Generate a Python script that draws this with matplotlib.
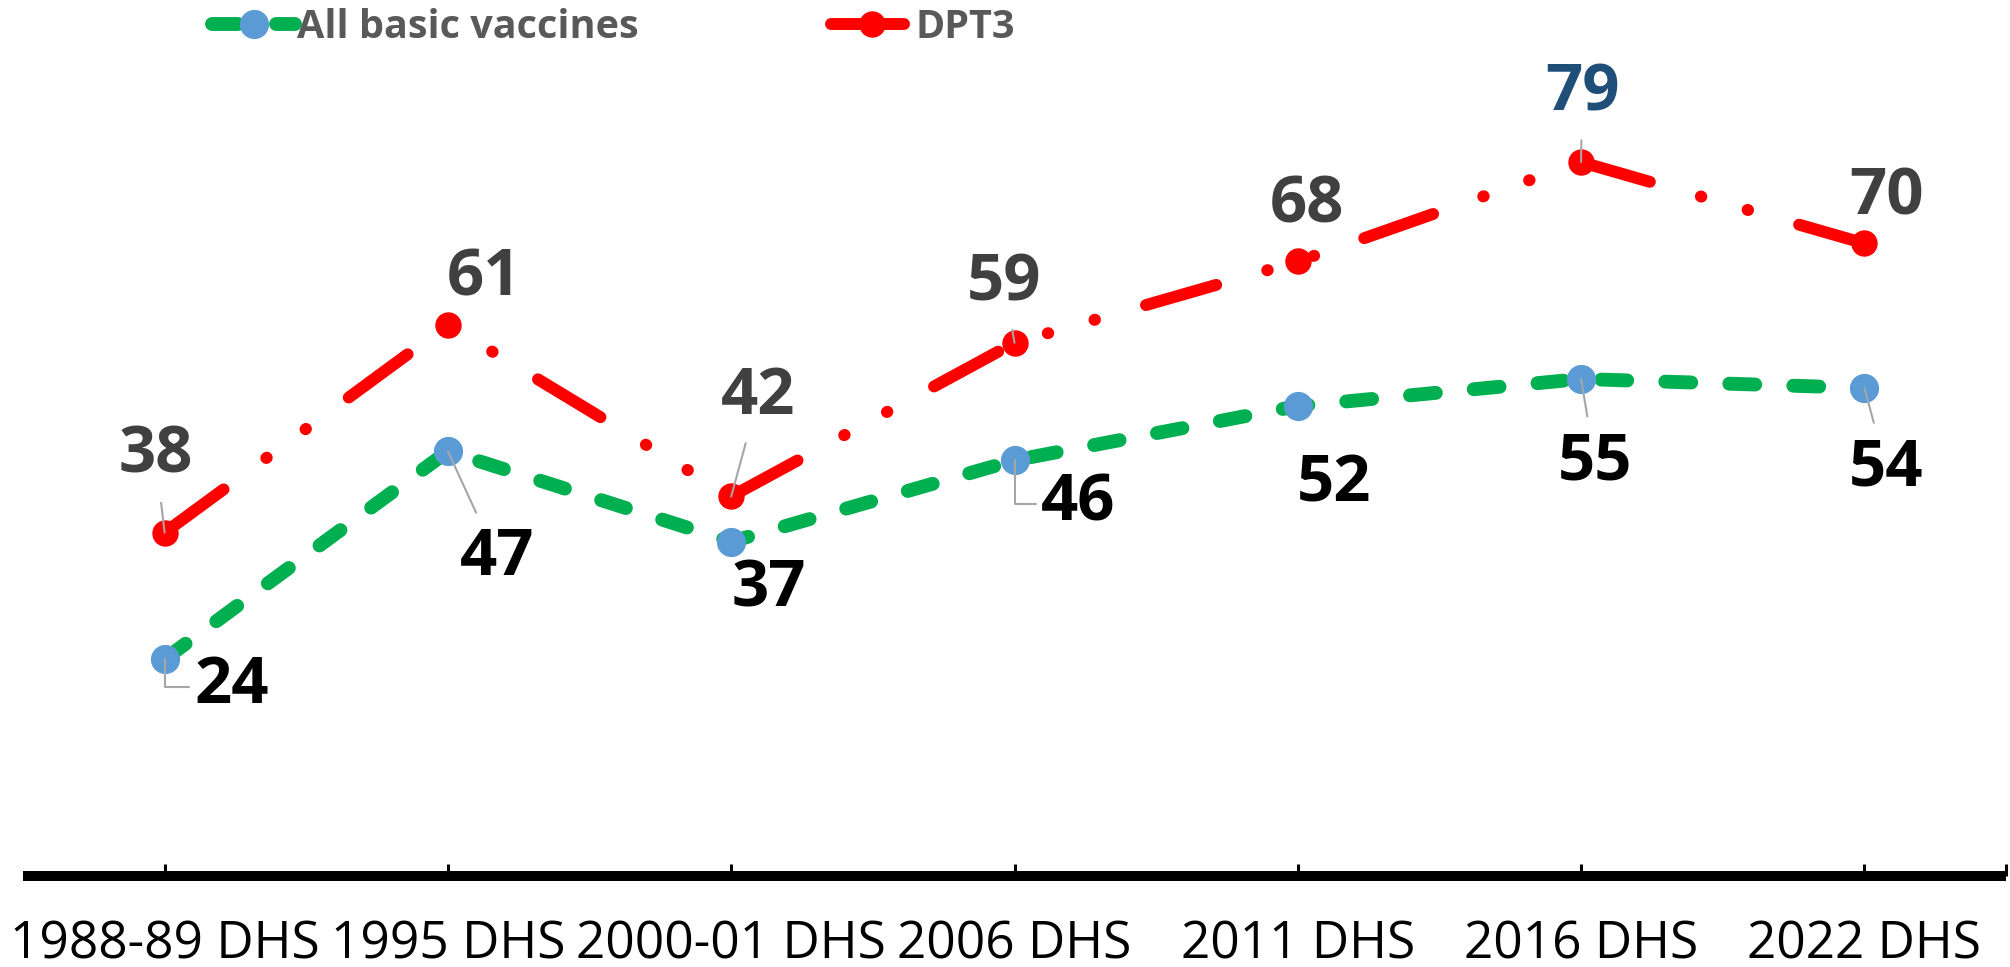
import matplotlib
matplotlib.use('Agg')
import matplotlib.pyplot as plt

# ---- data ----
surveys = ['1988-89 DHS', '1995 DHS', '2000-01 DHS', '2006 DHS', '2011 DHS', '2016 DHS', '2022 DHS']
all_basic = [24, 47, 37, 46, 52, 55, 54]
dpt3 = [38, 61, 42, 59, 68, 79, 70]

# ---- label placement (style, in pixels relative to point) ----
dpt3_offsets = [(-9, 83), (36, 53), (27, 106), (-10, 66), (9, 62), (1, 75), (22, 52)]
basic_offsets = [(67, -21), (49, -100), (38, -42), (64, -37), (36, -72), (14, -77), (22, -74)]
dpt3_leader = ['line', None, 'line', 'line', None, 'line', None]
basic_leader = ['angle', 'line', None, 'angle', None, 'line', 'line']
dpt3_label_colors = ['#404040', '#404040', '#404040', '#404040', '#404040', '#1F4E79', '#404040']

plt.rcParams['font.family'] = ['Open Sans', 'DejaVu Sans']
plt.rcParams['lines.scale_dashes'] = False

W, H, DPI = 2010, 967, 100
fig = plt.figure(figsize=(W / DPI, H / DPI), dpi=DPI)
y0_px = 876.0
unit_px = 9.037
ax = fig.add_axes([23 / W, (H - y0_px) / H, 1983 / W, y0_px / H])
ax.set_xlim(-0.5, 6.5)
ax.set_ylim(0, y0_px / unit_px)

x = list(range(len(surveys)))

ax.plot(x, all_basic, color='#00B050', lw=10, dashes=[18.7, 27.4], dash_capstyle='round',
        marker='o', markersize=20, markerfacecolor='#5B9BD5', markeredgecolor='#5B9BD5',
        label='All basic vaccines', zorder=3)
ax.plot(x, dpt3, color='#FF0000', lw=8.6, dashes=[52.6, 38.2, 0.4, 34.6, 0.4, 38.2],
        dash_capstyle='round', marker='o', markersize=18, markerfacecolor='#FF0000',
        markeredgecolor='#FF0000', label='DPT3', zorder=4)

label_fs = 47
em_px = label_fs * DPI / 72
cap_half = 0.714 * em_px / 2


def add_labels(values, offsets, leaders, colors):
    for i, v in enumerate(values):
        dx, dy = offsets[i]
        ap = None
        if leaders[i] == 'line':
            ap = dict(arrowstyle='-', color='#A6A6A6', lw=1.5, shrinkA=8, shrinkB=0)
        elif leaders[i] == 'angle':
            ap = dict(arrowstyle='-', color='#A6A6A6', lw=1.5, shrinkA=2, shrinkB=0,
                      connectionstyle='angle,angleA=0,angleB=90,rad=0')
        ax.annotate(str(v), xy=(i, v), xytext=(dx, dy - cap_half), textcoords='offset pixels',
                    ha='center', va='baseline', fontsize=label_fs, fontweight='bold',
                    color=colors[i], arrowprops=ap, zorder=6)


add_labels(dpt3, dpt3_offsets, dpt3_leader, dpt3_label_colors)
add_labels(all_basic, basic_offsets, basic_leader, ['black'] * len(all_basic))

# axes styling
for s in ['top', 'left', 'right']:
    ax.spines[s].set_visible(False)
ax.spines['bottom'].set_linewidth(7.2)
ax.spines['bottom'].set_color('black')
ax.spines['bottom'].set_capstyle('butt')
ax.yaxis.set_visible(False)
ax.set_xticks(x)
ax.set_xticklabels(surveys, fontsize=37, color='black')
ax.set_xticks([6.5], minor=True)
ax.tick_params(axis='x', which='both', direction='in', length=8.6, width=2.2, color='black', pad=31.5)

leg = ax.legend(loc='upper left', bbox_to_anchor=(212 / W, 1 - 8 / H), bbox_transform=fig.transFigure,
                ncol=2, frameon=False, prop={'size': 28.5, 'weight': 'bold'}, handlelength=2.1,
                handletextpad=0.05, columnspacing=4.85, borderpad=0, borderaxespad=0, numpoints=1)
for t in leg.get_texts():
    t.set_color('#595959')

fig.savefig('out.png', dpi=DPI)
